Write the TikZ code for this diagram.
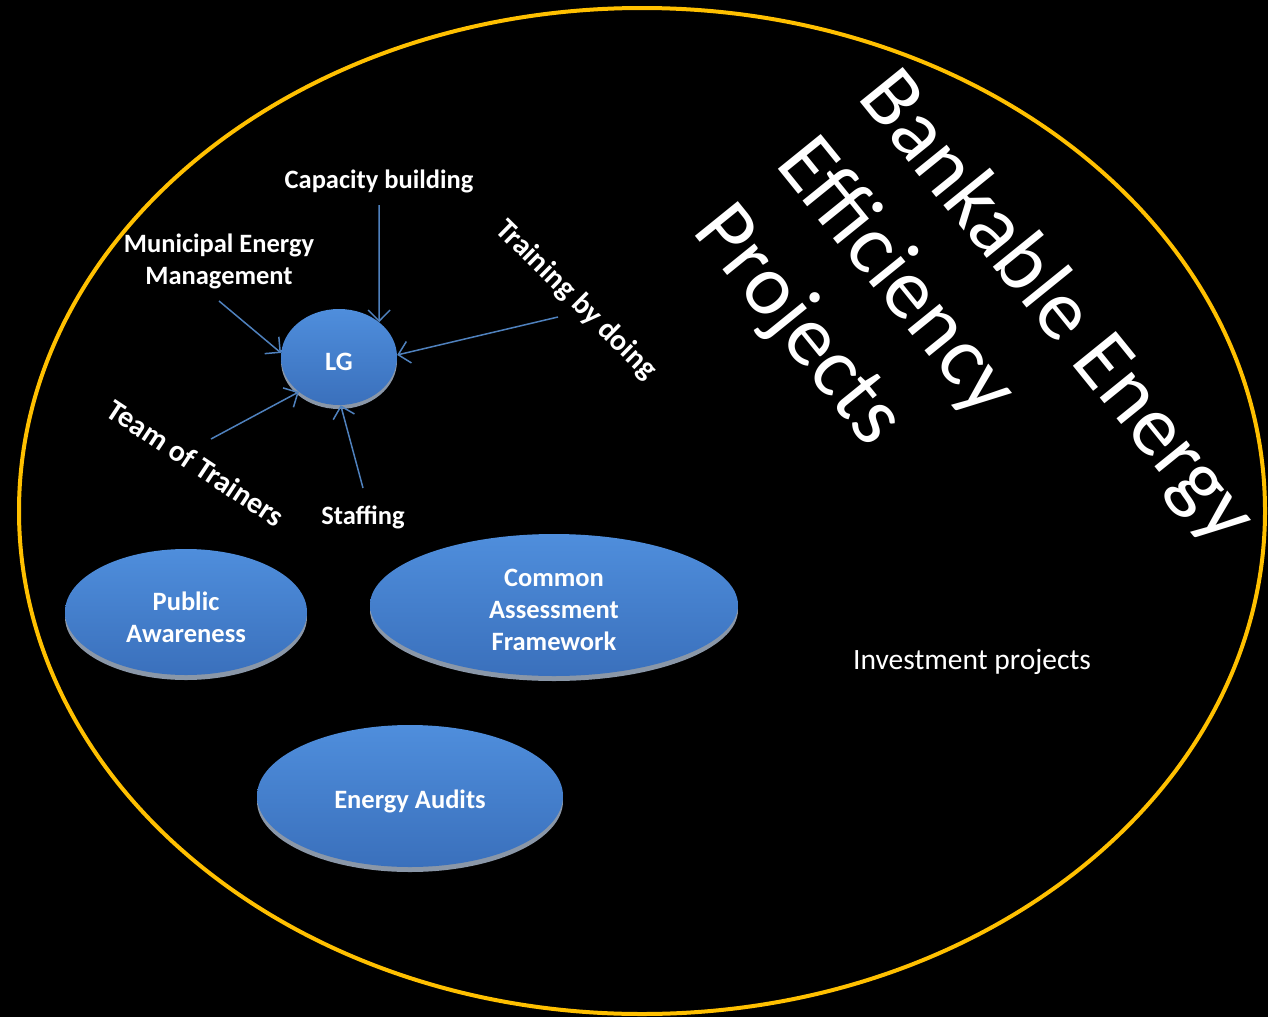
\documentclass[tikz,border=0pt]{standalone}
\usepackage{fontspec}
\setmainfont{Carlito}
\usetikzlibrary{arrows.meta,shapes.geometric}
\definecolor{ring}{HTML}{FFC000}
\definecolor{arrowblue}{HTML}{4F81BD}
\definecolor{bubtop}{HTML}{4F8EDC}
\definecolor{bubbot}{HTML}{3A70BC}
\definecolor{bubshadow}{HTML}{8A97A8}
\tikzset{
  lbl/.style={text=white, font=\fontsize{26.5}{32}\selectfont\bfseries, align=center, inner sep=0},
  rlbl/.style={text=white, font=\fontsize{30}{36}\selectfont\bfseries, align=center, inner sep=0},
  bubble/.style={ellipse, inner sep=0, top color=bubtop, bottom color=bubbot},
  btext/.style={text=white, font=\fontsize{26.5}{32}\selectfont\bfseries, align=center, inner sep=0},
  conn/.style={arrowblue, line width=1.5, -{Straight Barb[length=11, width=22, line width=1.5]}}
}
\begin{document}
\begin{tikzpicture}[x=1pt,y=-1pt]
\fill[black] (0,0) rectangle (1268,1017);
\useasboundingbox (0,0) rectangle (1268,1017);
\draw[ring, line width=4] (642,511) ellipse [x radius=623, y radius=503];

% shadows of bubbles
\fill[bubshadow] (339,361) ellipse [x radius=58, y radius=48];
\fill[bubshadow] (186,617) ellipse [x radius=121, y radius=63];
\fill[bubshadow] (554,610) ellipse [x radius=184, y radius=71];
\fill[bubshadow] (410,801) ellipse [x radius=153, y radius=71];

\node[bubble, minimum width=116, minimum height=96] (LG) at (339,357) {};
\node[bubble, minimum width=242, minimum height=126] (PA) at (186,612) {};
\node[bubble, minimum width=368, minimum height=142] (CAF) at (554,605) {};
\node[bubble, minimum width=306, minimum height=142] (EA) at (410,796) {};

\node[btext] (LGt) at (339,362) {LG};
\node[btext] (PAt) at (186,617) {Public\\Awareness};
\node[btext] (CAFt) at (554,610) {Common\\Assessment\\Framework};
\node[btext] (EAt) at (410,801) {Energy Audits};

\node[lbl] (cap) at (379,181) {Capacity building};
\node[lbl] (mun) at (219,261) {Municipal Energy\\Management};
\node[rlbl, rotate=-44.5] (train) at (576,300) {Training by doing};
\node[rlbl, rotate=-33.5] (team) at (196,463) {Team of Trainers};
\node[lbl] (staff) at (363,517) {Staffing};

\coordinate (capS) at (379,205);
\coordinate (munS) at (219,301);
\coordinate (trainS) at (558,317);
\coordinate (teamS) at (211,439);
\coordinate (staffS) at (363,488);

\draw[conn] (capS) -- (LG.41);
\draw[conn] (munS) -- (LG.176);
\draw[conn] (trainS) -- (LG.2);
\draw[conn] (teamS) -- (LG.221);
\draw[conn] (staffS) -- (LG.272);

\node[rotate=-51, anchor=north west, align=left, inner sep=0, text=white,
  font=\fontsize{86}{106}\selectfont] (title) at (903,60) {Bankable Energy\\Efficiency\\Projects};

\node[text=white, font=\fontsize{29.5}{34}\selectfont, inner sep=0] (inv) at (972,662) {Investment projects};
\end{tikzpicture}
\end{document}
